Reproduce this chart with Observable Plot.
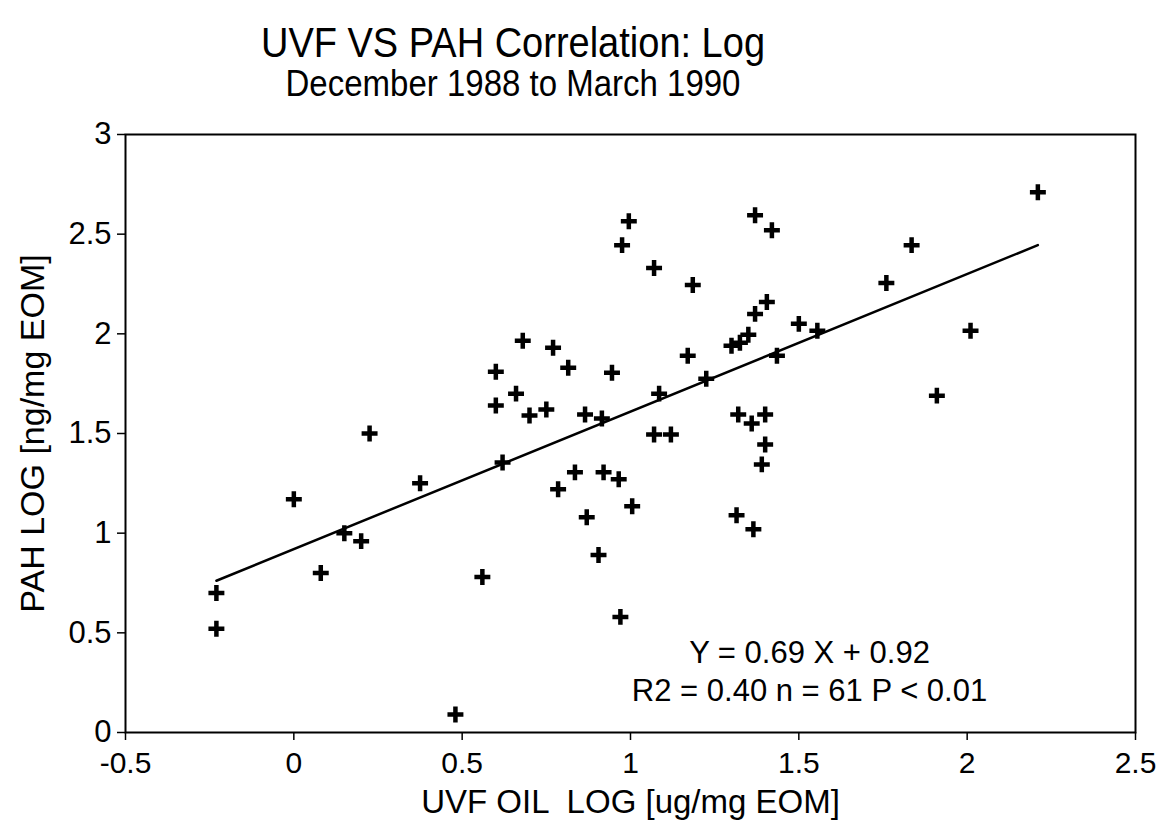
<!DOCTYPE html>
<html>
<head>
<meta charset="utf-8">
<script src="https://cdn.jsdelivr.net/npm/d3@7"></script>
<script src="https://cdn.jsdelivr.net/npm/@observablehq/plot@0.6"></script>
<style>
  html, body { margin: 0; padding: 0; background: #fff; }
  body { width: 1167px; height: 834px; overflow: hidden; font-family: "Liberation Sans", Arial, sans-serif; color: #000; }
  #head { height: 115px; width: 1026px; text-align: center; position: relative; }
  #title { position: absolute; left: 0; right: 0; top: 20px; font-size: 38px; line-height: 44px; transform: scaleY(1.14); transform-origin: 50% 50%; }
  #subtitle { position: absolute; left: 0; right: 0; top: 65px; font-size: 33px; line-height: 38px; transform: scaleY(1.1); transform-origin: 50% 50%; }
  svg text { white-space: pre; }
</style>
</head>
<body>
<div id="head">
  <div id="title">UVF VS PAH Correlation: Log</div>
  <div id="subtitle">December 1988 to March 1990</div>
</div>
<div id="chart"></div>
<script>
// UVF oil (log, ug/mg EOM) -- x values
const uvfLog = [
  -0.23, -0.23, 0.00, 0.08, 0.15, 0.20, 0.225, 0.375, 0.48, 0.56,
  0.60, 0.60, 0.62, 0.66, 0.68, 0.70, 0.75, 0.77, 0.785, 0.815,
  0.835, 0.865, 0.87, 0.905, 0.915, 0.92, 0.945, 0.965, 0.97, 0.975,
  0.995, 1.005, 1.07, 1.07, 1.085, 1.12, 1.17, 1.185, 1.225, 1.30,
  1.32, 1.315, 1.325, 1.35, 1.36, 1.365, 1.37, 1.37, 1.39, 1.40,
  1.40, 1.405, 1.42, 1.435, 1.50, 1.555, 1.76, 1.835, 1.91, 2.01,
  2.21
];
// PAH (log, ng/mg EOM) -- y values
const pahLog = [
  0.70, 0.52, 1.17, 0.80, 1.00, 0.96, 1.50, 1.25, 0.09, 0.78,
  1.81, 1.64, 1.355, 1.70, 1.965, 1.59, 1.62, 1.93, 1.22, 1.83,
  1.305, 1.595, 1.08, 0.89, 1.575, 1.305, 1.805, 1.27, 0.58, 2.445,
  2.565, 1.135, 2.33, 1.495, 1.70, 1.495, 1.89, 2.245, 1.775, 1.94,
  1.595, 1.09, 1.955, 1.995, 1.55, 1.02, 2.10, 2.595, 1.345, 1.595,
  1.445, 2.16, 2.52, 1.89, 2.05, 2.015, 2.255, 2.445, 1.69, 2.015,
  2.71
];
// Regression reported on the chart
const fitSlope = [0.69];
const fitIntercept = [0.92];
const statLines = ["Y = 0.69 X + 0.92", "R2 = 0.40 n = 61 P < 0.01"];
const xTicks = [-0.5, 0, 0.5, 1, 1.5, 2, 2.5];
const yTicks = [0, 0.5, 1, 1.5, 2, 2.5, 3];
const xLabel = "UVF OIL  LOG [ug/mg EOM]";
const yLabel = "PAH LOG [ng/mg EOM]";

const points = uvfLog.map((x, i) => ({x, y: pahLog[i]}));
const [xmin, xmax] = d3.extent(uvfLog);
const fit = [xmin, xmax].map(x => ({x, y: fitSlope[0] * x + fitIntercept[0]}));
const fmt = d => String(d);

const chart = Plot.plot({
  width: 1167,
  height: 719,
  marginTop: 19,
  marginBottom: 102,
  marginLeft: 125,
  marginRight: 32,
  style: {fontFamily: "'Liberation Sans', Arial, sans-serif", color: "#000", background: "#fff"},
  x: {domain: [-0.5, 2.5]},
  y: {domain: [0, 3]},
  marks: [
    Plot.axisX({ticks: xTicks, tickFormat: fmt, tickSize: 8, tickPadding: 11, fontSize: 30, label: null, strokeWidth: 1.5}),
    Plot.axisY({ticks: yTicks, tickFormat: fmt, tickSize: 8, tickPadding: 6, fontSize: 31, label: null, strokeWidth: 1.5}),
    Plot.frame({stroke: "#000", strokeWidth: 2}),
    Plot.line(fit, {x: "x", y: "y", stroke: "#000", strokeWidth: 2.5}),
    Plot.dot(points, {x: "x", y: "y", symbol: "plus", r: 5.2, stroke: "#000", strokeWidth: 4.5}),
    Plot.text([statLines[0]], {frameAnchor: "bottom-right", text: d => d, dx: -326, dy: -70, fontSize: 31, textAnchor: "middle", fill: "#000"}),
    Plot.text([statLines[1]], {frameAnchor: "bottom-right", text: d => d, dx: -326, dy: -32, fontSize: 31, textAnchor: "middle", fill: "#000"}),
    Plot.text([xLabel], {frameAnchor: "bottom", text: d => d, dy: 80, fontSize: 33, textAnchor: "middle", fill: "#000"}),
    Plot.text([yLabel], {frameAnchor: "left", text: d => d, dx: -92, rotate: -90, fontSize: 34, textAnchor: "middle", fill: "#000"})
  ]
});
document.getElementById("chart").appendChild(chart);
</script>
</body>
</html>
